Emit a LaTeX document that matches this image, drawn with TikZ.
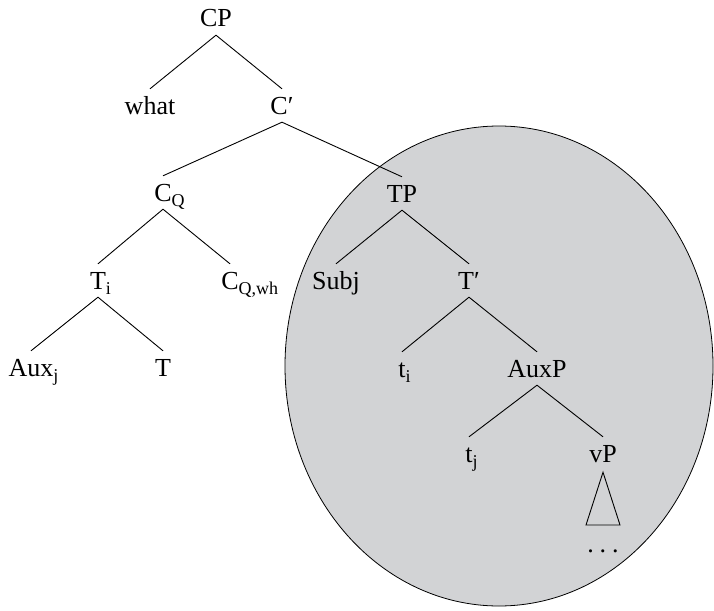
\documentclass[tikz,border=0pt]{standalone}
\usepackage{fontspec}
\setmainfont{Liberation Serif}
\definecolor{shade}{RGB}{210,211,213}
\newcommand\subx[1]{\rlap{\raisebox{-5pt}{\fontsize{18}{20}\selectfont #1}}}
\begin{document}
\begin{tikzpicture}[x=1pt,y=-1pt,
  lab/.style={anchor=base,inner xsep=0pt,inner ysep=0pt,text height=25pt,text depth=8pt,font=\fontsize{26}{30}\selectfont},
  edge/.style={line width=0.9pt},
  blob/.style={draw=black,line width=0.8pt,fill=shade}]
\useasboundingbox (0,0) rectangle (714,610);
\fill[white] (0,0) rectangle (714,610);
\draw[blob] (499,366) ellipse [x radius=214, y radius=240];
% nodes
\node[lab] (cp) at (216,27) {CP};
\node[lab] (what) at (150,114) {what};
\node[lab] (cbar) at (282,114) {C′};
\node[lab] (cq) at (163,201) {C\subx{Q}};
\node[lab] (tp) at (402,202) {TP};
\node[lab] (ti) at (98,289) {T\subx{i}};
\node[lab] (cqwh) at (230,289) {C\subx{Q,wh}};
\node[lab] (subj) at (336,289) {Subj};
\node[lab] (tbar) at (469,289) {T′};
\node[lab] (auxj) at (31,376) {Aux\subx{j}};
\node[lab] (t) at (163,376) {T};
\node[lab] (tti) at (402,377) {t\subx{i}};
\node[lab] (auxp) at (537,377) {AuxP};
\node[lab] (ttj) at (469,462) {t\subx{j}};
\node[lab] (vp) at (603,462) {vP};
\node[lab] (dots) at (603,552) {.\hspace{6pt}.\hspace{6pt}.};
% edges
\draw[edge] (what.north) -- (cp.south) -- (cbar.north);
\draw[edge] (cq.north) -- (cbar.south) -- (tp.north);
\draw[edge] (ti.north) -- (cq.south) -- (cqwh.north);
\draw[edge] (auxj.north) -- (ti.south) -- (t.north);
\draw[edge] (subj.north) -- (tp.south) -- (tbar.north);
\draw[edge] (tti.north) -- (tbar.south) -- (auxp.north);
\draw[edge] (ttj.north) -- (auxp.south) -- (vp.north);
% triangle
\coordinate (tri1) at (586,525);
\coordinate (tri2) at (620,525);
\draw[edge] (vp.south) ++(0,2) -- (tri2) -- (tri1) -- cycle;
\end{tikzpicture}
\end{document}
